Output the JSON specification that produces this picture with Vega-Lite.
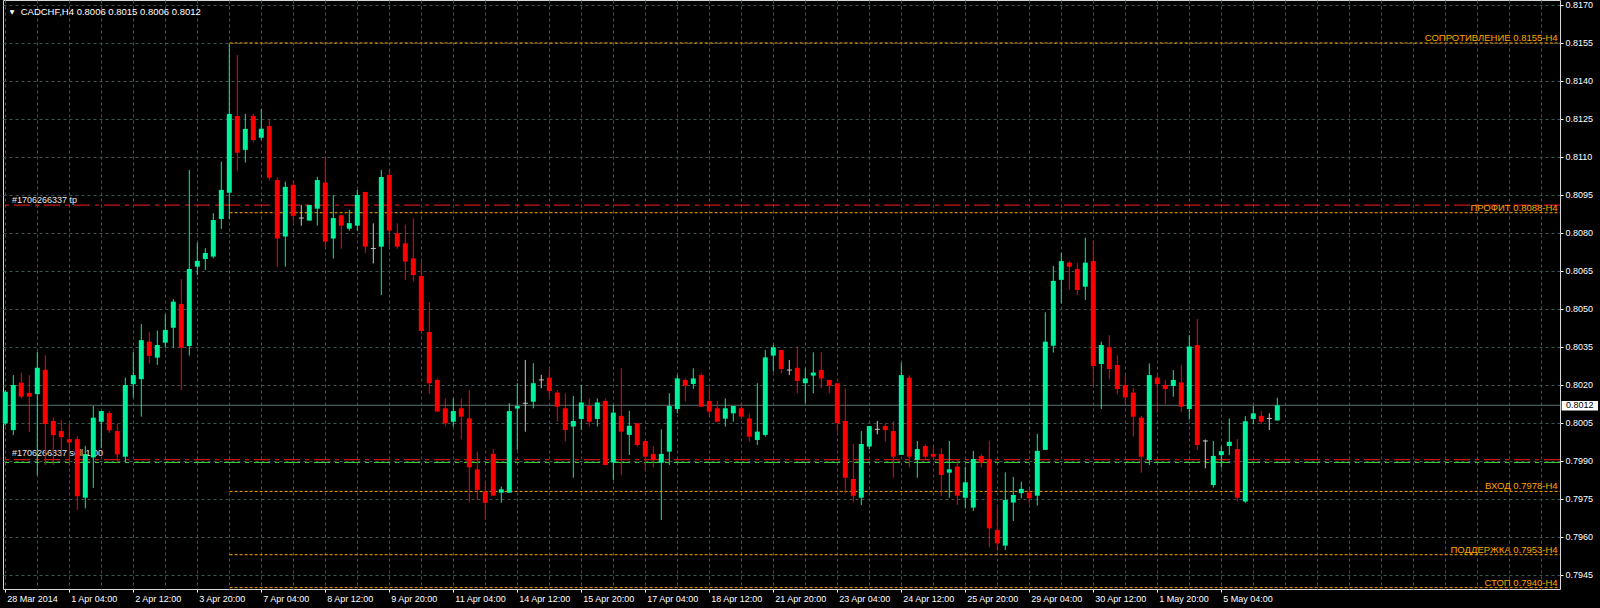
{
  "$schema": "https://vega.github.io/schema/vega-lite/v6.json",
  "width": 1557,
  "height": 589,
  "autosize": {"type": "none"},
  "padding": {"left": 3, "top": 0, "right": 40, "bottom": 19},
  "background": "#000000",
  "config": {
    "view": {"stroke": "#d8d8d8", "strokeWidth": 1},
    "scale": {"continuousPadding": 0},
    "axis": {"labelFont": "Liberation Sans", "labelFontSize": 9, "labelColor": "#ffffff", "tickColor": "#ffffff", "domain": false, "title": null, "labelOverlap": false, "labelSeparation": 0}
  },
  "datasets": {
    "bars": [
      {"i":0,"o":0.80048,"h":0.8018,"l":0.8004,"c":0.80173},
      {"i":1,"o":0.80022,"h":0.80239,"l":0.80002,"c":0.802},
      {"i":2,"o":0.80209,"h":0.80248,"l":0.80147,"c":0.80154},
      {"i":3,"o":0.80169,"h":0.80239,"l":0.80015,"c":0.80154},
      {"i":4,"o":0.80164,"h":0.80331,"l":0.79844,"c":0.80268},
      {"i":5,"o":0.8026,"h":0.80318,"l":0.79884,"c":0.80046},
      {"i":6,"o":0.80058,"h":0.80071,"l":0.79884,"c":0.80002},
      {"i":7,"o":0.80018,"h":0.80061,"l":0.79917,"c":0.79994},
      {"i":8,"o":0.79986,"h":0.80048,"l":0.79884,"c":0.79973},
      {"i":9,"o":0.79986,"h":0.79998,"l":0.79707,"c":0.79761},
      {"i":10,"o":0.79755,"h":0.79959,"l":0.79713,"c":0.79927},
      {"i":11,"o":0.79914,"h":0.80117,"l":0.79794,"c":0.80071},
      {"i":12,"o":0.80055,"h":0.80097,"l":0.7995,"c":0.80097},
      {"i":13,"o":0.80089,"h":0.80097,"l":0.80011,"c":0.80021},
      {"i":14,"o":0.80018,"h":0.80048,"l":0.79893,"c":0.79926},
      {"i":15,"o":0.79917,"h":0.80229,"l":0.79897,"c":0.802},
      {"i":16,"o":0.80203,"h":0.80331,"l":0.80151,"c":0.80239},
      {"i":17,"o":0.80223,"h":0.8044,"l":0.80075,"c":0.80377},
      {"i":18,"o":0.80371,"h":0.8041,"l":0.80285,"c":0.80315},
      {"i":19,"o":0.80308,"h":0.80415,"l":0.80279,"c":0.80358},
      {"i":20,"o":0.80367,"h":0.80479,"l":0.80347,"c":0.80417},
      {"i":21,"o":0.80426,"h":0.80539,"l":0.80347,"c":0.80529},
      {"i":22,"o":0.8052,"h":0.80618,"l":0.8018,"c":0.80347},
      {"i":23,"o":0.80354,"h":0.81049,"l":0.80316,"c":0.80658},
      {"i":24,"o":0.80667,"h":0.80761,"l":0.80634,"c":0.8069},
      {"i":25,"o":0.80697,"h":0.8074,"l":0.80654,"c":0.80721},
      {"i":26,"o":0.80707,"h":0.80878,"l":0.807,"c":0.80851},
      {"i":27,"o":0.80855,"h":0.81082,"l":0.80816,"c":0.8097},
      {"i":28,"o":0.80959,"h":0.81546,"l":0.80855,"c":0.8127},
      {"i":29,"o":0.81262,"h":0.81503,"l":0.81045,"c":0.81117},
      {"i":30,"o":0.81128,"h":0.8127,"l":0.81078,"c":0.81211},
      {"i":31,"o":0.81262,"h":0.8127,"l":0.81157,"c":0.81167},
      {"i":32,"o":0.81176,"h":0.81289,"l":0.81167,"c":0.81211},
      {"i":33,"o":0.81222,"h":0.81249,"l":0.81007,"c":0.81018},
      {"i":34,"o":0.81009,"h":0.8102,"l":0.80667,"c":0.80778},
      {"i":35,"o":0.80786,"h":0.81003,"l":0.80667,"c":0.80982},
      {"i":36,"o":0.8099,"h":0.81009,"l":0.80845,"c":0.80868},
      {"i":37,"o":0.80859,"h":0.80911,"l":0.80829,"c":0.80859},
      {"i":38,"o":0.80849,"h":0.80911,"l":0.80849,"c":0.80911},
      {"i":39,"o":0.80896,"h":0.81022,"l":0.80829,"c":0.81009},
      {"i":40,"o":0.80999,"h":0.81101,"l":0.80746,"c":0.80766},
      {"i":41,"o":0.80778,"h":0.8095,"l":0.80699,"c":0.80859},
      {"i":42,"o":0.8087,"h":0.8087,"l":0.80738,"c":0.80829},
      {"i":43,"o":0.80817,"h":0.80891,"l":0.80809,"c":0.80839},
      {"i":44,"o":0.80829,"h":0.8097,"l":0.80809,"c":0.8095},
      {"i":45,"o":0.80962,"h":0.80962,"l":0.8072,"c":0.80746},
      {"i":46,"o":0.80739,"h":0.80838,"l":0.8068,"c":0.80739},
      {"i":47,"o":0.80746,"h":0.81049,"l":0.80555,"c":0.81021},
      {"i":48,"o":0.81029,"h":0.81049,"l":0.80746,"c":0.80809},
      {"i":49,"o":0.80799,"h":0.80838,"l":0.80738,"c":0.80746},
      {"i":50,"o":0.80759,"h":0.80832,"l":0.80614,"c":0.80687},
      {"i":51,"o":0.807,"h":0.80858,"l":0.80608,"c":0.80634},
      {"i":52,"o":0.8063,"h":0.80687,"l":0.80413,"c":0.80413},
      {"i":53,"o":0.80409,"h":0.80528,"l":0.80165,"c":0.80207},
      {"i":54,"o":0.8022,"h":0.80226,"l":0.80095,"c":0.80095},
      {"i":55,"o":0.80108,"h":0.80147,"l":0.80036,"c":0.80049},
      {"i":56,"o":0.80055,"h":0.80147,"l":0.80036,"c":0.80097},
      {"i":57,"o":0.80108,"h":0.80147,"l":0.79986,"c":0.80075},
      {"i":58,"o":0.80068,"h":0.8018,"l":0.79736,"c":0.79875},
      {"i":59,"o":0.79867,"h":0.79937,"l":0.79746,"c":0.79786},
      {"i":60,"o":0.79779,"h":0.79816,"l":0.79667,"c":0.79735},
      {"i":61,"o":0.79928,"h":0.79947,"l":0.79763,"c":0.79763},
      {"i":62,"o":0.79775,"h":0.79799,"l":0.79735,"c":0.79788},
      {"i":63,"o":0.79775,"h":0.80128,"l":0.79775,"c":0.80097},
      {"i":64,"o":0.80107,"h":0.80207,"l":0.79944,"c":0.80117},
      {"i":65,"o":0.80128,"h":0.80299,"l":0.80016,"c":0.80128},
      {"i":66,"o":0.80134,"h":0.80286,"l":0.80108,"c":0.80207},
      {"i":67,"o":0.8022,"h":0.8024,"l":0.80187,"c":0.8022},
      {"i":68,"o":0.80229,"h":0.80262,"l":0.80154,"c":0.80176},
      {"i":69,"o":0.8017,"h":0.8018,"l":0.80055,"c":0.80114},
      {"i":70,"o":0.80108,"h":0.80167,"l":0.79977,"c":0.80022},
      {"i":71,"o":0.80036,"h":0.80157,"l":0.79834,"c":0.80058},
      {"i":72,"o":0.80066,"h":0.802,"l":0.80022,"c":0.80131},
      {"i":73,"o":0.80117,"h":0.80147,"l":0.80036,"c":0.80055},
      {"i":74,"o":0.80066,"h":0.80147,"l":0.80036,"c":0.80131},
      {"i":75,"o":0.80137,"h":0.80147,"l":0.79884,"c":0.79884},
      {"i":76,"o":0.79894,"h":0.80121,"l":0.79825,"c":0.80091},
      {"i":77,"o":0.80078,"h":0.80266,"l":0.79845,"c":0.80016},
      {"i":78,"o":0.80003,"h":0.80098,"l":0.79924,"c":0.80039},
      {"i":79,"o":0.80049,"h":0.80049,"l":0.79957,"c":0.79963},
      {"i":80,"o":0.79979,"h":0.79986,"l":0.79865,"c":0.79917},
      {"i":81,"o":0.79928,"h":0.79959,"l":0.79875,"c":0.79904},
      {"i":82,"o":0.79893,"h":0.80025,"l":0.79667,"c":0.79928},
      {"i":83,"o":0.79937,"h":0.80167,"l":0.79884,"c":0.80117},
      {"i":84,"o":0.80105,"h":0.80239,"l":0.80088,"c":0.80226},
      {"i":85,"o":0.8022,"h":0.80226,"l":0.80134,"c":0.80197},
      {"i":86,"o":0.80204,"h":0.80266,"l":0.80184,"c":0.80226},
      {"i":87,"o":0.80239,"h":0.80246,"l":0.80114,"c":0.80114},
      {"i":88,"o":0.80137,"h":0.80191,"l":0.80078,"c":0.80095},
      {"i":89,"o":0.80108,"h":0.80137,"l":0.80055,"c":0.80055},
      {"i":90,"o":0.80067,"h":0.80147,"l":0.80036,"c":0.80108},
      {"i":91,"o":0.80088,"h":0.80117,"l":0.80055,"c":0.80117},
      {"i":92,"o":0.80108,"h":0.80128,"l":0.80065,"c":0.80075},
      {"i":93,"o":0.80068,"h":0.80088,"l":0.79976,"c":0.79996},
      {"i":94,"o":0.79983,"h":0.80207,"l":0.79963,"c":0.80016},
      {"i":95,"o":0.80003,"h":0.80338,"l":0.79996,"c":0.80309},
      {"i":96,"o":0.80316,"h":0.80358,"l":0.80253,"c":0.80349},
      {"i":97,"o":0.80338,"h":0.80338,"l":0.80246,"c":0.80263},
      {"i":98,"o":0.80259,"h":0.80299,"l":0.80239,"c":0.80259},
      {"i":99,"o":0.80268,"h":0.80351,"l":0.80167,"c":0.80216},
      {"i":100,"o":0.80207,"h":0.80266,"l":0.80128,"c":0.80226},
      {"i":101,"o":0.80237,"h":0.80329,"l":0.80167,"c":0.80249},
      {"i":102,"o":0.80259,"h":0.80329,"l":0.80187,"c":0.80226},
      {"i":103,"o":0.8022,"h":0.8022,"l":0.80167,"c":0.80197},
      {"i":104,"o":0.80207,"h":0.80207,"l":0.80016,"c":0.80049},
      {"i":105,"o":0.80058,"h":0.80187,"l":0.79772,"c":0.79834},
      {"i":106,"o":0.79829,"h":0.79967,"l":0.79736,"c":0.79763},
      {"i":107,"o":0.79755,"h":0.80018,"l":0.79726,"c":0.79967},
      {"i":108,"o":0.79957,"h":0.80038,"l":0.79946,"c":0.80038},
      {"i":109,"o":0.80025,"h":0.80058,"l":0.80005,"c":0.80025},
      {"i":110,"o":0.80038,"h":0.80049,"l":0.79976,"c":0.80022},
      {"i":111,"o":0.80018,"h":0.80058,"l":0.79834,"c":0.79917},
      {"i":112,"o":0.79924,"h":0.80288,"l":0.79924,"c":0.80239},
      {"i":113,"o":0.80229,"h":0.80239,"l":0.79875,"c":0.79917},
      {"i":114,"o":0.79904,"h":0.79979,"l":0.79834,"c":0.79947},
      {"i":115,"o":0.79959,"h":0.79966,"l":0.79904,"c":0.79917},
      {"i":116,"o":0.79927,"h":0.79959,"l":0.79904,"c":0.79917},
      {"i":117,"o":0.79927,"h":0.7995,"l":0.79763,"c":0.79845},
      {"i":118,"o":0.79854,"h":0.79979,"l":0.79755,"c":0.79867},
      {"i":119,"o":0.79878,"h":0.79908,"l":0.79726,"c":0.79763},
      {"i":120,"o":0.79755,"h":0.79878,"l":0.79713,"c":0.79816},
      {"i":121,"o":0.79716,"h":0.7994,"l":0.79703,"c":0.79908},
      {"i":122,"o":0.7992,"h":0.79926,"l":0.79874,"c":0.79893},
      {"i":123,"o":0.79908,"h":0.79979,"l":0.7956,"c":0.79634},
      {"i":124,"o":0.79628,"h":0.79716,"l":0.79545,"c":0.79575},
      {"i":125,"o":0.79566,"h":0.79855,"l":0.79549,"c":0.79746},
      {"i":126,"o":0.79736,"h":0.79837,"l":0.79663,"c":0.79766},
      {"i":127,"o":0.79773,"h":0.79819,"l":0.79753,"c":0.7979},
      {"i":128,"o":0.79776,"h":0.7979,"l":0.79733,"c":0.79753},
      {"i":129,"o":0.79763,"h":0.80007,"l":0.79724,"c":0.7994},
      {"i":130,"o":0.79944,"h":0.80487,"l":0.79944,"c":0.80371},
      {"i":131,"o":0.80355,"h":0.8067,"l":0.80328,"c":0.80611},
      {"i":132,"o":0.80615,"h":0.80722,"l":0.80522,"c":0.80689},
      {"i":133,"o":0.80683,"h":0.80689,"l":0.80575,"c":0.80667},
      {"i":134,"o":0.80658,"h":0.80683,"l":0.80555,"c":0.80575},
      {"i":135,"o":0.80588,"h":0.80782,"l":0.80536,"c":0.80683},
      {"i":136,"o":0.80689,"h":0.8077,"l":0.80196,"c":0.80275},
      {"i":137,"o":0.80283,"h":0.80371,"l":0.80105,"c":0.80358},
      {"i":138,"o":0.80349,"h":0.80397,"l":0.80224,"c":0.80263},
      {"i":139,"o":0.80279,"h":0.80318,"l":0.80163,"c":0.80184},
      {"i":140,"o":0.802,"h":0.8024,"l":0.80128,"c":0.80151},
      {"i":141,"o":0.8017,"h":0.80189,"l":0.79996,"c":0.80075},
      {"i":142,"o":0.80071,"h":0.80078,"l":0.79854,"c":0.79917},
      {"i":143,"o":0.79904,"h":0.80285,"l":0.79884,"c":0.80239},
      {"i":144,"o":0.80229,"h":0.80246,"l":0.80091,"c":0.80204},
      {"i":145,"o":0.802,"h":0.8022,"l":0.80125,"c":0.80184},
      {"i":146,"o":0.80196,"h":0.80259,"l":0.80154,"c":0.8022},
      {"i":147,"o":0.8021,"h":0.80279,"l":0.80093,"c":0.80114},
      {"i":148,"o":0.80105,"h":0.80397,"l":0.80064,"c":0.80352},
      {"i":149,"o":0.80358,"h":0.80461,"l":0.79943,"c":0.79963},
      {"i":150,"o":0.79979,"h":0.79985,"l":0.79871,"c":0.79979},
      {"i":151,"o":0.79805,"h":0.79979,"l":0.79795,"c":0.7992},
      {"i":152,"o":0.79923,"h":0.79959,"l":0.79874,"c":0.79939},
      {"i":153,"o":0.79959,"h":0.80068,"l":0.79923,"c":0.79976},
      {"i":154,"o":0.79947,"h":0.79987,"l":0.7974,"c":0.79755},
      {"i":155,"o":0.7974,"h":0.80077,"l":0.79735,"c":0.80057},
      {"i":156,"o":0.80066,"h":0.80117,"l":0.80045,"c":0.80088},
      {"i":157,"o":0.80078,"h":0.80097,"l":0.80045,"c":0.80055},
      {"i":158,"o":0.80068,"h":0.80088,"l":0.80022,"c":0.80068},
      {"i":159,"o":0.8006,"h":0.8015,"l":0.8006,"c":0.8012}
    ]
  },
  "layer": [
    {
      "data": {"values": [
        {"level": 0.8155, "name": "СОПРОТИВЛЕНИЕ 0.8155-H4"},
        {"level": 0.8088, "name": "ПРОФИТ 0.8088-H4"},
        {"level": 0.7978, "name": "ВХОД 0.7978-H4"},
        {"level": 0.7953, "name": "ПОДДЕРЖКА 0.7953-H4"},
        {"level": 0.794, "name": "СТОП 0.7940-H4"}
      ]},
      "mark": {"type": "rule", "color": "#ffa500", "strokeWidth": 1, "strokeDash": [3, 2]},
      "encoding": {
        "x": {
          "datum": 28.04, "type": "quantitative",
          "scale": {"domain": [-0.2875, 194.3375], "nice": false, "zero": false, "padding": 0},
          "axis": {
            "values": [0,4,8,12,16,20,24,28,32,36,40,44,48,52,56,60,64,68,72,76,80,84,88,92,96,100,104,108,112,116,120,124,128,132,136,140,144,148,152,156,160,164,168,172,176,180,184,188,192],
            "tickCount": 500,
            "grid": true, "gridColor": "#3a5656", "gridDash": [3, 3], "gridWidth": 1,
            "ticks": true, "tickSize": 3, "tickWidth": 1,
            "tickOpacity": {"condition": {"test": "datum.value % 8 === 0 && datum.value <= 152", "value": 1}, "value": 0},
            "labelExpr": "(datum.value % 8 === 0 && datum.value <= 152) ? ['28 Mar 2014','1 Apr 04:00','2 Apr 12:00','3 Apr 20:00','7 Apr 04:00','8 Apr 12:00','9 Apr 20:00','11 Apr 04:00','14 Apr 12:00','15 Apr 20:00','17 Apr 04:00','18 Apr 12:00','21 Apr 20:00','23 Apr 04:00','24 Apr 12:00','25 Apr 20:00','29 Apr 04:00','30 Apr 12:00','1 May 20:00','5 May 04:00'][datum.value / 8] : ''",
            "labelAlign": "left", "labelBaseline": "top", "labelPadding": 2, "labelOffset": 1.5,
            "labelFlush": false, "labelOverlap": false, "labelBound": false
          }
        },
        "x2": {"datum": 194.3375},
        "y": {
          "field": "level", "type": "quantitative",
          "scale": {"domain": [0.793947, 0.817197], "nice": false, "zero": false, "padding": 0},
          "axis": {
            "orient": "right",
            "values": [0.7945, 0.796, 0.7975, 0.799, 0.8005, 0.802, 0.8035, 0.805, 0.8065, 0.808, 0.8095, 0.811, 0.8125, 0.814, 0.8155, 0.817],
            "tickCount": 500,
            "format": ".4f",
            "grid": true, "gridColor": "#3a5656", "gridDash": [3, 3], "gridWidth": 1,
            "tickSize": 3, "labelPadding": 2,
            "labelFlush": false, "labelOverlap": false, "labelBound": false
          }
        }
      }
    },
    {
      "data": {"values": [{"p": 0.8091}, {"p": 0.79905}]},
      "mark": {"type": "rule", "color": "#ff1a1a", "strokeWidth": 1, "strokeDash": [16, 5, 4, 5]},
      "encoding": {"y": {"field": "p", "type": "quantitative"}}
    },
    {
      "data": {"values": [{"p": 0.79894}]},
      "mark": {"type": "rule", "color": "#30d030", "strokeWidth": 1, "strokeDash": [16, 5, 4, 5]},
      "encoding": {"y": {"field": "p", "type": "quantitative"}}
    },
    {
      "data": {"values": [{"p": 0.8012}]},
      "mark": {"type": "rule", "color": "#5b7272", "strokeWidth": 1},
      "encoding": {"y": {"field": "p", "type": "quantitative"}}
    },
    {
      "data": {"values": [
        {"i": 0.8375, "p": 0.8093, "t": "#1706266337 tp"},
        {"i": 0.8375, "p": 0.7993, "t": "#1706266337 sell 1.00"}
      ]},
      "mark": {"type": "text", "align": "left", "baseline": "middle", "font": "Liberation Sans", "fontSize": 9, "color": "#e8e8e8"},
      "encoding": {
        "x": {"field": "i", "type": "quantitative"},
        "y": {"field": "p", "type": "quantitative"},
        "text": {"field": "t"}
      }
    },
    {
      "data": {"values": [{"i": 1.925, "p": 0.81672, "t": "CADCHF,H4  0.8006 0.8015 0.8006 0.8012"}]},
      "mark": {"type": "text", "align": "left", "baseline": "middle", "font": "Liberation Sans", "fontSize": 9.5, "color": "#ffffff"},
      "encoding": {
        "x": {"field": "i", "type": "quantitative"},
        "y": {"field": "p", "type": "quantitative"},
        "text": {"field": "t"}
      }
    },
    {
      "data": {"values": [{"i": 0.8375, "p": 0.81672, "t": "▼"}]},
      "mark": {"type": "text", "align": "center", "baseline": "middle", "font": "DejaVu Sans", "fontSize": 6, "color": "#ffffff"},
      "encoding": {
        "x": {"field": "i", "type": "quantitative"},
        "y": {"field": "p", "type": "quantitative"},
        "text": {"field": "t"}
      }
    },
    {
      "data": {"values": [
        {"level": 0.8155, "name": "СОПРОТИВЛЕНИЕ 0.8155-H4"},
        {"level": 0.8088, "name": "ПРОФИТ 0.8088-H4"},
        {"level": 0.7978, "name": "ВХОД 0.7978-H4"},
        {"level": 0.7953, "name": "ПОДДЕРЖКА 0.7953-H4"},
        {"level": 0.794, "name": "СТОП 0.7940-H4"}
      ]},
      "mark": {"type": "text", "align": "right", "baseline": "alphabetic", "dy": -2, "font": "Liberation Sans", "fontSize": 9.5, "color": "#ffa500"},
      "encoding": {
        "x": {"datum": 194.04, "type": "quantitative"},
        "y": {"field": "level", "type": "quantitative"},
        "text": {"field": "name"}
      }
    },
    {
      "data": {"name": "bars"},
      "mark": {"type": "rule", "strokeWidth": 1},
      "encoding": {
        "x": {"field": "i", "type": "quantitative"},
        "y": {"field": "l", "type": "quantitative"},
        "y2": {"field": "h"},
        "color": {
          "condition": [
            {"test": "datum.c > datum.o", "value": "#00f29a"},
            {"test": "datum.c < datum.o", "value": "#ff0000"}
          ],
          "value": "#c8c8c8"
        }
      }
    },
    {
      "data": {"name": "bars"},
      "mark": {"type": "bar", "size": 5},
      "encoding": {
        "x": {"field": "i", "type": "quantitative"},
        "y": {"field": "o", "type": "quantitative"},
        "y2": {"field": "c"},
        "color": {
          "condition": [
            {"test": "datum.c > datum.o", "value": "#00f29a"},
            {"test": "datum.c < datum.o", "value": "#ff0000"}
          ],
          "value": "#c8c8c8"
        }
      }
    },
    {
      "data": {"name": "bars"},
      "transform": [{"filter": "datum.o === datum.c"}],
      "mark": {"type": "tick", "orient": "horizontal", "size": 5, "thickness": 1, "color": "#c8c8c8", "opacity": 1},
      "encoding": {
        "x": {"field": "i", "type": "quantitative"},
        "y": {"field": "c", "type": "quantitative"}
      }
    },
    {
      "data": {"values": [{"a": 194.54, "b": 199.09, "p1": 0.80137, "p2": 0.80099}]},
      "mark": {"type": "rect", "color": "#ffffff"},
      "encoding": {
        "x": {"field": "a", "type": "quantitative"},
        "x2": {"field": "b"},
        "y": {"field": "p1", "type": "quantitative"},
        "y2": {"field": "p2"}
      }
    },
    {
      "data": {"values": [{"i": 196.81, "p": 0.8012, "t": "0.8012"}]},
      "mark": {"type": "text", "align": "center", "baseline": "middle", "font": "Liberation Sans", "fontSize": 9, "color": "#000000"},
      "encoding": {
        "x": {"field": "i", "type": "quantitative"},
        "y": {"field": "p", "type": "quantitative"},
        "text": {"field": "t"}
      }
    }
  ]
}
